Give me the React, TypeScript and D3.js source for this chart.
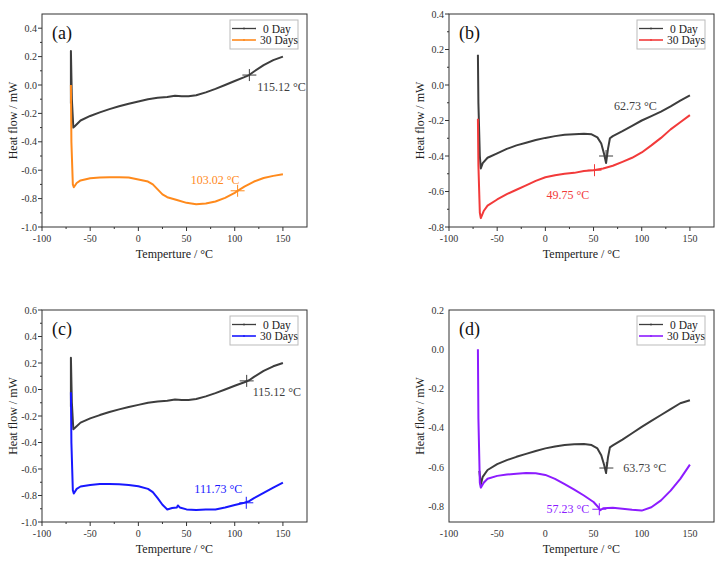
import React from 'react'
import * as d3 from 'd3'

// DSC curves, [temperature °C, heat flow mW]
const day0A = [[-70, -0.13], [-70, 0.24], [-69, -0.1], [-67.5, -0.3], [-66, -0.29], [-60, -0.25], [-50, -0.218], [-40, -0.193], [-30, -0.17], [-20, -0.15], [-10, -0.132], [0, -0.116], [10, -0.1], [20, -0.09], [30, -0.085], [38, -0.075], [45, -0.08], [52, -0.08], [60, -0.072], [70, -0.052], [80, -0.027], [90, 0.0], [100, 0.028], [110, 0.055], [115, 0.07], [120, 0.095], [130, 0.14], [140, 0.175], [150, 0.2]]
const day30A = [[-70, 0.0], [-69.5, -0.4], [-68, -0.7], [-67, -0.72], [-64, -0.69], [-60, -0.672], [-50, -0.657], [-40, -0.652], [-30, -0.65], [-20, -0.65], [-10, -0.652], [0, -0.665], [10, -0.68], [15, -0.7], [20, -0.735], [25, -0.77], [30, -0.79], [40, -0.81], [50, -0.83], [60, -0.84], [70, -0.835], [80, -0.82], [90, -0.795], [100, -0.76], [103, -0.745], [110, -0.715], [120, -0.68], [130, -0.655], [140, -0.64], [150, -0.628]]

const day0B = [[-70, 0.17], [-69.5, -0.1], [-68, -0.4], [-67, -0.47], [-65, -0.44], [-60, -0.41], [-50, -0.385], [-40, -0.36], [-30, -0.34], [-20, -0.325], [-10, -0.31], [0, -0.298], [10, -0.288], [20, -0.28], [30, -0.277], [40, -0.275], [48, -0.278], [54, -0.295], [58, -0.33], [61, -0.39], [63, -0.44], [65, -0.36], [67, -0.3], [70, -0.288], [80, -0.26], [90, -0.23], [100, -0.2], [110, -0.175], [120, -0.15], [130, -0.12], [140, -0.088], [150, -0.058]]
const day30B = [[-70, -0.19], [-69.5, -0.45], [-68, -0.72], [-67, -0.75], [-64, -0.71], [-60, -0.68], [-50, -0.645], [-40, -0.615], [-30, -0.59], [-20, -0.565], [-10, -0.54], [0, -0.52], [10, -0.508], [20, -0.5], [30, -0.495], [40, -0.485], [50, -0.48], [60, -0.47], [70, -0.455], [80, -0.433], [90, -0.41], [100, -0.38], [110, -0.34], [120, -0.298], [130, -0.25], [140, -0.21], [150, -0.17]]

const day0C = day0A
const day30C = [[-70, -0.02], [-69.5, -0.4], [-68, -0.76], [-67, -0.785], [-64, -0.75], [-60, -0.732], [-50, -0.72], [-40, -0.714], [-30, -0.714], [-20, -0.716], [-10, -0.72], [0, -0.73], [10, -0.75], [15, -0.775], [20, -0.82], [25, -0.87], [30, -0.905], [35, -0.895], [40, -0.89], [41, -0.875], [43, -0.89], [50, -0.905], [60, -0.91], [70, -0.906], [80, -0.905], [90, -0.89], [100, -0.872], [110, -0.855], [115, -0.843], [120, -0.82], [130, -0.78], [140, -0.74], [150, -0.703]]

const day0D = [[-68.5, -0.62], [-67, -0.69], [-65, -0.65], [-60, -0.615], [-50, -0.585], [-40, -0.565], [-30, -0.548], [-20, -0.533], [-10, -0.518], [0, -0.505], [10, -0.495], [20, -0.488], [30, -0.484], [40, -0.483], [48, -0.488], [54, -0.505], [58, -0.54], [61, -0.59], [63, -0.63], [65, -0.55], [67, -0.5], [70, -0.49], [80, -0.46], [90, -0.428], [100, -0.395], [110, -0.365], [120, -0.335], [130, -0.305], [140, -0.275], [150, -0.26]]
const day30D = [[-70, 0.0], [-69.5, -0.35], [-68, -0.68], [-67, -0.705], [-64, -0.68], [-60, -0.66], [-50, -0.645], [-40, -0.638], [-30, -0.634], [-20, -0.63], [-10, -0.632], [0, -0.64], [10, -0.66], [20, -0.687], [30, -0.715], [40, -0.745], [50, -0.778], [55, -0.805], [57, -0.82], [60, -0.81], [70, -0.808], [80, -0.812], [90, -0.818], [100, -0.822], [110, -0.805], [120, -0.77], [130, -0.72], [140, -0.66], [150, -0.588]]

const seriesNames = ['0 Day', '30 Days']
const panelLabels = ['(a)', '(b)', '(c)', '(d)']
const xTicks = [-100, -50, 0, 50, 100, 150]
const yDomains = [[-1.0, 0.5], [-0.8, 0.4], [-1.0, 0.6], [-0.88, 0.2]]
const yTickRanges = [[-1.0, 0.4], [-0.8, 0.4], [-1.0, 0.6], [-0.8, 0.2]]
const annotations = [
  [{ at: [115.2, 0.07], text: '115.12 °C' }, { at: [103, -0.745], text: '103.02 °C' }],
  [{ at: [63, -0.4], text: '62.73 °C' }, { at: [51, -0.48], text: '49.75 °C' }],
  [{ at: [112.4, 0.065], text: '115.12 °C' }, { at: [112, -0.855], text: '111.73 °C' }],
  [{ at: [63.3, -0.605], text: '63.73 °C' }, { at: [56, -0.815], text: '57.23 °C' }],
]
// label offsets from the cross, px
const labelOffsets = [
  [[8, 16, 'start'], [2, -7, 'end']],
  [[8, -46, 'start'], [-48, 29, 'start']],
  [[6, 15, 'start'], [-4, -10, 'end']],
  [[17, 4, 'start'], [-10, 4, 'end']],
]

const gray = '#3d3d3d'
const colors30 = ['#ff8a1c', '#f23a3a', '#1818ff', '#8c1cff']
const panelData = [[day0A, day30A], [day0B, day30B], [day0C, day30C], [day0D, day30D]]
const frames = [
  { left: 42, top: 14 }, { left: 449, top: 14 },
  { left: 42, top: 310 }, { left: 449, top: 310 },
]
const frameH = [213, 213, 212, 212]
const frameW = 265
const font = "'Liberation Serif', 'Times New Roman', Times, 'DejaVu Serif', serif"

function Panel({ i }: { i: number }) {
  const { left, top } = frames[i]
  const h = frameH[i]
  const x = d3.scaleLinear().domain([-100, 175]).range([0, frameW])
  const y = d3.scaleLinear().domain(yDomains[i]).range([h, 0])
  const line = d3.line<number[]>().x(d => x(d[0])).y(d => y(d[1]))
  const [lo, hi] = yTickRanges[i]
  const yMajor = d3.range(Math.round(lo * 10), Math.round(hi * 10) + 1, 2).map(v => v / 10)
  const yMinor = d3.range(Math.round(lo * 10) + 1, Math.round(hi * 10), 2).map(v => v / 10)
  const xMinor = [-75, -25, 25, 75, 125]
  const showTicks = i !== 3
  const cols = [gray, colors30[i]]
  return (
    <g transform={`translate(${left},${top})`}>
      <defs>
        <clipPath id={`clip${i}`}>
          <rect width={frameW} height={h} />
        </clipPath>
      </defs>
      <g clipPath={`url(#clip${i})`}>
        {panelData[i].map((s, k) => (
          <path key={k} d={line(s) || ''} fill="none" stroke={cols[k]} strokeWidth={2} strokeLinejoin="round" />
        ))}
      </g>
      <rect width={frameW} height={h} fill="none" stroke="#333" strokeWidth={1} />
      {yMajor.map(v => (
        <g key={'y' + v} transform={`translate(0,${y(v)})`}>
          {showTicks && <line x1={-4} x2={0} stroke="#333" />}
          <text x={-5} dy="0.35em" textAnchor="end" fontSize={10} fill="#333">{v.toFixed(1)}</text>
        </g>
      ))}
      {showTicks && yMinor.map(v => (
        <line key={'ym' + v} x1={-2} x2={0} y1={y(v)} y2={y(v)} stroke="#333" />
      ))}
      {xTicks.map(v => (
        <g key={'x' + v} transform={`translate(${x(v)},${h})`}>
          {showTicks && <line y1={0} y2={4} stroke="#333" />}
          <text y={15} textAnchor="middle" fontSize={10} fill="#333">{v}</text>
        </g>
      ))}
      {showTicks && xMinor.map(v => (
        <line key={'xm' + v} x1={x(v)} x2={x(v)} y1={h} y2={h + 2} stroke="#333" />
      ))}
      <text x={frameW / 2} y={h + 31} textAnchor="middle" fontSize={12} fill="#222">Temperture / °C</text>
      <text transform={`translate(-25,${h / 2}) rotate(-90)`} textAnchor="middle" fontSize={12} fill="#222">Heat flow / mW</text>
      <text x={10} y={25} fontSize={18} fill="#111">{panelLabels[i]}</text>
      {annotations[i].map((a, k) => {
        const cx = x(a.at[0])
        const cy = y(a.at[1])
        const [dx, dy, anchor] = labelOffsets[i][k]
        return (
          <g key={'a' + k} stroke={cols[k]}>
            <line x1={cx - 7} x2={cx + 7} y1={cy} y2={cy} strokeWidth={1} />
            <line x1={cx} x2={cx} y1={cy - 6} y2={cy + 6} strokeWidth={1} />
            <text x={cx + (dx as number)} y={cy + (dy as number)} textAnchor={anchor as string} fontSize={12} fill={cols[k]} stroke="none">{a.text}</text>
          </g>
        )
      })}
      <g transform={`translate(${frameW - 77},6)`}>
        <rect width={68} height={29} fill="#fff" stroke="#bbb" strokeWidth={1} />
        {seriesNames.map((n, k) => (
          <g key={n} transform={`translate(0,${8.5 + k * 11.5})`}>
            <line x1={2} x2={26} stroke={cols[k]} strokeWidth={k === 0 ? 1.3 : 1.6} />
            <circle cx={14} r={0.9} fill={cols[k]} />
            <text x={k === 0 ? 33 : 30} dy="0.35em" fontSize={11.5} fill="#222">{n}</text>
          </g>
        ))}
      </g>
    </g>
  )
}

export default function App() {
  return (
    <svg width={724} height={563} style={{ position: 'absolute', left: 0, top: 0, background: '#fff', fontFamily: font }}>
      {frames.map((_, i) => <Panel key={i} i={i} />)}
    </svg>
  )
}
